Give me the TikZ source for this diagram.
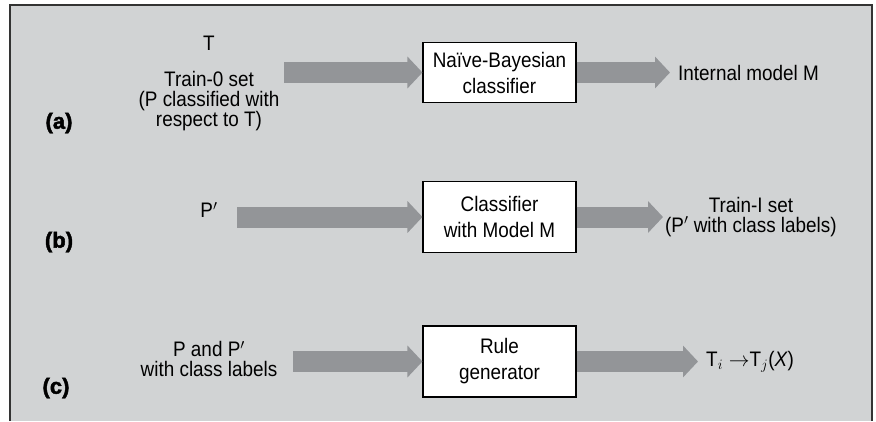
\documentclass[tikz,border=0pt]{standalone}
\usepackage{fontspec}
\setmainfont{Liberation Sans}[FakeStretch=0.9]
\newfontfamily\tagfont{Liberation Sans}[BoldFeatures={FakeBold=2}]
\usetikzlibrary{arrows.meta,positioning}

\definecolor{panel}{RGB}{209,211,212}
\definecolor{flow}{RGB}{147,149,152}
\definecolor{rim}{RGB}{51,51,51}

\begin{document}
\begin{tikzpicture}[x=1pt,y=-1pt]
 \tikzstyle{txt}=[font=\fontsize{21}{20}\selectfont,align=center,inner sep=0pt]
 \tikzstyle{block}=[draw,fill=white,line width=1.1pt,minimum width=153pt,minimum height=71pt,font=\fontsize{21}{26}\selectfont,align=center]
 \tikzstyle{flowarrow}=[draw=flow,line width=21pt,-{Triangle[length=15pt,width=31pt]}]
 \tikzstyle{tag}=[font=\fontsize{22}{24}\tagfont\bfseries\selectfont,inner sep=0pt]

\useasboundingbox (0,0) rectangle (876,421);
\fill[panel] (10,5) rectangle (872,421);
\draw[rim,line width=1.5pt] (10,421) -- (10,5) -- (872,5) -- (872,421);

% (a)
\node[tag] (taga) at (59,123) {(a)};
\node[txt] (T) at (209,43) {T};
\node[txt] (ina) at (209,101) {Train-0 set\\(P classified with\\respect to T)};
\node[block,minimum height=60pt] (boxa) at (499.5,72.5) {Na\"ive-Bayesian\\classifier};
\node[txt,anchor=west,inner sep=8pt] (outa) at (670,72.5) {Internal model M};
\coordinate (sa) at (284,72.5);

\draw[flowarrow] (sa) -- (boxa.west);
\draw[flowarrow] (boxa.east) -- (outa.west);

% (b)
\node[tag] (tagb) at (59,242) {(b)};
\node[txt] (inb) at (209,210) {P$'$};
\node[block] (boxb) at (499.5,217) {Classifier\\with Model M};
\node[txt,anchor=west,inner sep=2pt] (outb) at (663,217) {Train-I set\\(P$'$ with class labels)};
\coordinate (sb) at (237,217);

\draw[flowarrow] (sb) -- (boxb.west);
\draw[flowarrow] (boxb.east) -- (outb.west);

% (c)
\node[tag] (tagc) at (56,388) {(c)};
\node[txt] (inc) at (209,359) {P and P$'$\\with class labels};
\node[block] (boxc) at (499.5,361.5) {Rule\\generator};
\node[txt,anchor=west,inner sep=8pt] (outc) at (698,361.5) {T$_i\rightarrow$T$_j$(\textit{X})};
\coordinate (sc) at (293,361.5);

\draw[flowarrow] (sc) -- (boxc.west);
\draw[flowarrow] (boxc.east) -- (outc.west);

\end{tikzpicture}
\end{document}
